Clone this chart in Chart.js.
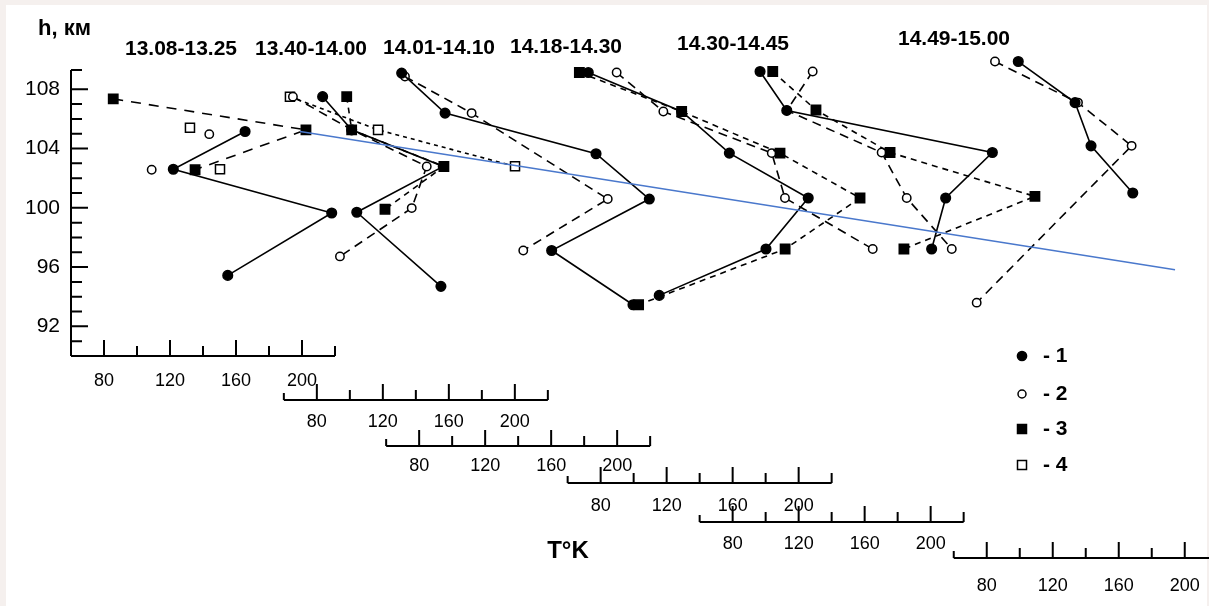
<!DOCTYPE html>
<html lang="ru">
<head>
<meta charset="UTF-8">
<title>T(h) profiles</title>
<script src="https://cdn.jsdelivr.net/npm/chart.js@4.4.0/dist/chart.umd.min.js"></script>
<style>
  html, body { margin: 0; background: #f5f0ee; }
  #wrap { width: 1209px; height: 606px; }
</style>
</head>
<body>
<div id="wrap"><canvas id="chart" width="1209" height="606"></canvas></div>
<script>
// time windows, one temperature axis each
var periods = ['13.08-13.25', '13.40-14.00', '14.01-14.10', '14.18-14.30', '14.30-14.45', '14.49-15.00'];
// how far each window's T axis is moved along the common x scale (K)
var shifts = [0, 129, 191, 301, 381, 535];
var tTicks = [80, 120, 160, 200];
var hTicks = [92, 96, 100, 104, 108];
var legendNames = ['1', '2', '3', '4'];

// series 1 (filled circles), per window: T in K, h in km
var s1T = [[165.5, 122.0, 218.0, 155.0], [83.5, 101.1, 156.6, 104.2, 155.2], [69.4, 95.7, 187.2, 219.5, 160.3, 209.6],
           [72.5, 129.1, 158.0, 205.8, 180.2, 115.5], [96.6, 112.8, 237.4, 209.1, 200.6], [99.1, 133.5, 143.2, 168.5]];
var s1H = [[105.15, 102.6, 99.65, 95.44], [107.5, 105.26, 102.79, 99.7, 94.7], [109.09, 106.39, 103.65, 100.59, 97.12, 93.46],
           [109.13, 106.5, 103.69, 100.66, 97.22, 94.09], [109.2, 106.57, 103.73, 100.66, 97.22], [109.87, 107.1, 104.18, 101.0]];
// series 2 (open circles)
var s2T = [[108.9, 143.8], [65.5, 101.3, 146.6, 137.5, 94.0], [71.4, 111.8, 194.3, 143.1],
           [89.7, 118.0, 183.7, 191.7, 244.9], [128.5, 112.8, 170.3, 185.5, 212.8], [85.0, 135.3, 167.8, 73.9]];
var s2H = [[102.57, 104.97], [107.5, 105.26, 102.79, 99.98, 96.72], [108.86, 106.39, 100.59, 97.12],
           [109.13, 106.5, 103.69, 100.66, 97.22], [109.2, 106.57, 103.73, 100.66, 97.22], [109.87, 107.1, 104.18, 93.6]];
// series 3 (filled squares)
var s3T = [[85.6, 202.4, 135.2], [98.1, 101.1, 157.0, 121.3], [], [67.1, 129.1, 188.7, 237.2, 191.8, 103.0], [104.3, 130.5, 175.4, 263.2, 183.8], []];
var s3H = [[107.35, 105.26, 102.57], [107.5, 105.26, 102.79, 99.9], [], [109.13, 106.5, 103.69, 100.66, 97.22, 93.46], [109.2, 106.6, 103.73, 100.77, 97.22], []];
// series 4 (open squares)
var s4T = [[132.1, 150.3], [63.7, 117.1, 200.1], [], [], [], []];
var s4H = [[105.4, 102.6], [107.5, 105.26, 102.8], [], [], [], []];
// windows where a series is only plotted as points
var s2NoLine = [0];
var s4NoLine = [0];

// straight trend line across the windows (common x in K, h in km)
var trendX = [198.8, 729.1];
var trendH = [105.15, 95.82];

var seriesT = [s1T, s2T, s3T, s4T];
var seriesH = [s1H, s2H, s3H, s4H];
var noLine = [[], s2NoLine, [], s4NoLine];
var styles = [
  { pointStyle: 'circle', pointRadius: 4.8, fill: '#000', dash: [], order: 1 },
  { pointStyle: 'circle', pointRadius: 4.2, fill: '#fff', dash: [9, 6], order: 2 },
  { pointStyle: 'rect', pointRadius: 6.6, fill: '#000', dash: [6, 5], order: 1 },
  { pointStyle: 'rect', pointRadius: 6.4, fill: '#fff', dash: [4, 4], order: 2 }
];
// the first window's squares are joined with longer dashes
var longDash = [10, 8];

var datasets = [];
for (var s = 0; s < 4; s++) {
  for (var p = 0; p < periods.length; p++) {
    var T = seriesT[s][p], H = seriesH[s][p];
    if (!T.length) continue;
    var st = styles[s];
    datasets.push({
      label: periods[p] + ' / ' + legendNames[s],
      data: T.map(function (t, i) { return { x: t + shifts[p], y: H[i] }; }),
      showLine: noLine[s].indexOf(p) < 0,
      borderColor: '#000',
      borderWidth: 1.6,
      borderDash: (s === 2 && p === 0) ? longDash : st.dash,
      pointStyle: st.pointStyle,
      pointRadius: st.pointRadius,
      pointBackgroundColor: st.fill,
      pointBorderColor: '#000',
      pointBorderWidth: 1.5,
      order: st.order,
      clip: false
    });
  }
}
datasets.push({
  label: 'trend',
  data: trendX.map(function (x, i) { return { x: x, y: trendH[i] }; }),
  showLine: true,
  borderColor: '#4a78cc',
  borderWidth: 1.3,
  pointRadius: 0,
  order: 0,
  clip: false
});

var FONT = '"Liberation Sans", Arial, sans-serif';
var KPX = 1.65;     // px per kelvin on every T axis
var H_TOP = 109.3;  // where the drawn h axis stops

// layout of the stepped T axes under the plot
var rowLine = [356, 400, 446, 483, 522, 558];
var rowLabel = [381, 422, 466, 506, 544, 586];
var titlePos = [[181, 49], [311, 49], [439, 48], [566, 47], [733, 44], [954, 39]];
var legendY = [356, 394, 429, 465];

var paper = {
  id: 'paper',
  beforeDraw: function (chart) {
    var c = chart.ctx;
    c.save();
    c.fillStyle = '#f5f0ee';
    c.fillRect(0, 0, chart.width, chart.height);
    c.fillStyle = '#fff';
    c.fillRect(6, 5, 1201, 601);
    c.restore();
  }
};

var axesPlugin = {
  id: 'steppedAxes',
  afterDraw: function (chart) {
    var c = chart.ctx, xs = chart.scales.x, ys = chart.scales.y, a = chart.chartArea;
    var top = ys.getPixelForValue(H_TOP);
    c.save();
    c.strokeStyle = '#000';
    c.fillStyle = '#000';
    c.lineWidth = 2;

    // h axis, ticks pointing inward
    c.beginPath();
    c.moveTo(a.left, top);
    c.lineTo(a.left, a.bottom);
    for (var h = 91; h <= 108; h++) {
      var y = ys.getPixelForValue(h);
      c.moveTo(a.left, y);
      c.lineTo(a.left + (hTicks.indexOf(h) >= 0 ? 17 : 11), y);
    }
    c.moveTo(a.left, top);
    c.lineTo(a.left + 11, top);
    c.stroke();

    // one T axis per time window
    c.font = '18px ' + FONT;
    c.textAlign = 'center';
    c.textBaseline = 'middle';
    periods.forEach(function (name, i) {
      var y0 = rowLine[i];
      var x0 = xs.getPixelForValue(60 + shifts[i]);
      var x1 = xs.getPixelForValue(220 + shifts[i]);
      c.beginPath();
      c.moveTo(x0, y0);
      c.lineTo(x1, y0);
      for (var t = 60; t <= 220; t += 20) {
        if (i === 0 && t === 60) continue;
        var len = tTicks.indexOf(t) >= 0 ? 16 : (t === 60 ? 7 : 10);
        var x = xs.getPixelForValue(t + shifts[i]);
        c.moveTo(x, y0);
        c.lineTo(x, y0 - len);
      }
      c.stroke();
      tTicks.forEach(function (t) {
        c.fillText(String(t), xs.getPixelForValue(t + shifts[i]), rowLabel[i]);
      });
    });

    // window titles
    c.font = 'bold 21px ' + FONT;
    periods.forEach(function (name, i) {
      c.fillText(name, titlePos[i][0], titlePos[i][1]);
    });

    c.font = 'bold 22px ' + FONT;
    c.textAlign = 'left';
    c.textBaseline = 'alphabetic';
    c.fillText('h, км', 38, 35);
    c.font = 'bold 24px ' + FONT;
    c.textAlign = 'center';
    c.textBaseline = 'middle';
    c.fillText('T°K', 568, 551);

    // legend
    c.lineWidth = 1.5;
    c.font = 'bold 21px ' + FONT;
    c.textAlign = 'left';
    legendNames.forEach(function (n, i) {
      var lx = 1022, ly = legendY[i];
      c.beginPath();
      if (i < 2) c.arc(lx, ly, i === 0 ? 4.6 : 4, 0, Math.PI * 2);
      else c.rect(lx - 4.5, ly - 4.5, 9, 9);
      c.fillStyle = (i === 0 || i === 2) ? '#000' : '#fff';
      c.fill();
      c.stroke();
      c.fillStyle = '#000';
      c.fillText('- ' + n, 1043, ly);
    });
    c.restore();
  }
};

new Chart(document.getElementById('chart'), {
  type: 'scatter',
  data: { datasets: datasets },
  options: {
    responsive: false,
    animation: false,
    layout: { autoPadding: false, padding: { top: 56.65, bottom: 250, left: 0, right: 0 } },
    plugins: { legend: { display: false }, tooltip: { enabled: false } },
    scales: {
      x: { type: 'linear', display: false, min: 60, max: 60 + 1138 / KPX },
      y: {
        type: 'linear',
        min: 90,
        max: 110.2,
        afterFit: function (s) { s.width = 71; },
        grid: { display: false, drawTicks: false },
        border: { display: false },
        ticks: {
          stepSize: 1,
          autoSkip: false,
          padding: 11,
          color: '#000',
          font: { size: 21, family: FONT },
          callback: function (v) { return hTicks.indexOf(v) >= 0 ? String(v) : ''; }
        }
      }
    }
  },
  plugins: [paper, axesPlugin]
});
</script>
</body>
</html>
